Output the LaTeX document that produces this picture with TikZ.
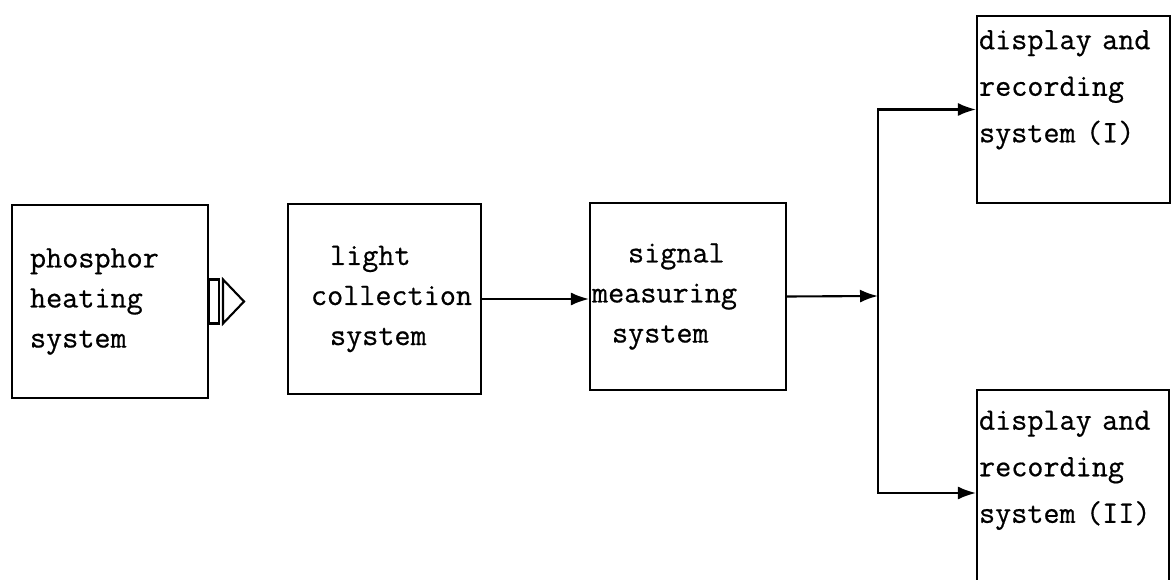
\documentclass[tikz,border=0pt]{standalone}
\usepackage{fontspec}
\newfontfamily\typew[FakeBold=0.6]{Latin Modern Mono}
\usetikzlibrary{positioning,arrows.meta,calc}
\newcommand{\ind}[1]{\hspace*{#1}}

\begin{document}
\begin{tikzpicture}[x=0.02cm,y=-0.02cm,
box/.style={draw,line width=1.2pt,align=left,inner xsep=0.04cm,inner ysep=0pt,font=\typew\fontsize{17.8}{22.8}\selectfont},
disp/.style={box,font=\typew\fontsize{17.8}{26.5}\selectfont},
arr/.style={-{Latex[length=3.6mm,width=2.6mm]},line width=1.2pt}]
\clip (0,0) rectangle (1172,580);
\node[box,minimum width=3.92cm,minimum height=3.86cm,text width=3.84cm] (heat) at (110,301.5)
  {\ind{0.32cm}phosphor\\\ind{0.32cm}heating\\\ind{0.32cm}system};
\node[box,minimum width=3.86cm,minimum height=3.8cm,text width=3.78cm] (light) at (384.5,299)
  {\ind{0.8cm}light\\\ind{0.42cm}collection\\\ind{0.8cm}system};
\node[box,minimum width=3.92cm,minimum height=3.74cm,text width=3.84cm] (signal) at (688,296.5)
  {\ind{0.72cm}signal\\measuring\\\ind{0.4cm}system};
\node[disp,minimum width=3.86cm,minimum height=3.74cm,text width=3.78cm] (disp1) at (1073.5,109.5)
  {display and\\recording\\system (I)\\\mbox{}};
\node[disp,minimum width=3.84cm,minimum height=4cm,text width=3.76cm] (disp2) at (1073,490)
  {display and\\recording\\system (II)\\\mbox{}};
% hollow arrow from heating to light collection
\draw[line width=1.2pt] (heat.east) ++(0,-22) rectangle ++(10,44);
\draw[line width=1.2pt,line join=miter] ($(heat.east)+(14,-22)$) -- ($(heat.east)+(35,0)$) -- ($(heat.east)+(14,22)$) -- cycle;
\coordinate (fork) at (878,296);
\draw[arr] (light.east) -- (light.east -| signal.west);
\draw[arr] (signal.east) -- (fork);
\draw[arr] (fork) |- (disp1.west);
\draw[arr] (fork) |- ($(disp2.west)+(0,3)$);
\end{tikzpicture}
\end{document}
